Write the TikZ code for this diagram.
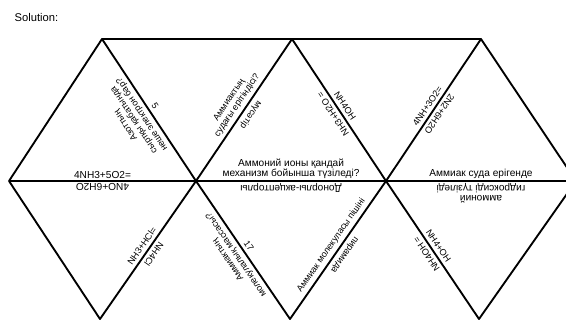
\documentclass[tikz,border=0pt]{standalone}
\usepackage{fontspec}
\setmainfont{Liberation Sans}
\usetikzlibrary{positioning}

\begin{document}
\begin{tikzpicture}[x=0.75pt, y=-0.75pt,
  edge/.style={line width=1.4pt, line join=round},
  clue/.style={midway, sloped, allow upside down, above, inner sep=2.8pt, align=center, font=\fontsize{6.8}{7.3}\selectfont},
  flat/.style={clue, inner sep=1.8pt, font=\fontsize{7.6}{7.6}\selectfont}]
\useasboundingbox (0,0) rectangle (566,320);
\clip (0,0) rectangle (566,320);

\node[anchor=west, font=\fontsize{8.4}{10}\selectfont] (title) at (10,18) {Solution:};

% corners of the triangles
\coordinate (t1) at (102,39);
\coordinate (t2) at (292,39);
\coordinate (t3) at (481,39);
\coordinate (m0) at (9,181);
\coordinate (m1) at (196,181);
\coordinate (m2) at (386,181);
\coordinate (m3) at (576,181);
\coordinate (b1) at (100,319);
\coordinate (b2) at (290,319);
\coordinate (b3) at (479,319);

% the three rows of lines
\draw[edge] (t1) -- (t3);
\draw[edge] (m0) -- (t1) -- (m1) -- (t2) -- (m2) -- (t3) -- (m3);
\draw[edge] (m0) -- (m3);
\draw[edge] (m0) -- (b1) -- (m1) -- (b2) -- (m2) -- (b3) -- (m3);

% top row - each text faces into its own triangle
\path (m1) -- node[clue] (q1) {Азоттың\\сыртқы қабатында\\неше электрон бар?} (t1);
\path (t1) -- node[clue] (a1) {5} (m1);
\path (m1) -- node[clue] (q2) {Аммиактың\\судағы ерітіндісі?} (t2);
\path (t2) -- node[clue] (a2) {мүсәтір} (m1);
\path (m2) -- node[clue] (q3) {NH3+H2O =} (t2);
\path (t2) -- node[clue] (a3) {NH4OH} (m2);
\path (m2) -- node[clue] (q4) {4NH+3O2=} (t3);
\path (t3) -- node[clue] (a4) {2N2+6H2O} (m2);

% middle line
\path (m0) -- node[flat] (q5) {4NH3+5O2=} (m1);
\path (m1) -- node[flat] (a5) {4NO+6H2O} (m0);
\path (m1) -- node[flat] (q6) {Аммоний ионы қандай\\механизм бойынша түзіледі?} (m2);
\path (m2) -- node[flat] (a6) {Донорлы-акцепторлы} (m1);
\path (m2) -- node[flat] (q7) {Аммиак суда ерігенде} (m3);
\path (m3) -- node[flat] (a7) {аммоний\\гидроксиді түзіледі} (m2);

% bottom row
\path (b1) -- node[clue] (q8) {NH3+HCl=} (m1);
\path (m1) -- node[clue] (a8) {NH4Cl} (b1);
\path (b2) -- node[clue] (q9) {Аммиактың\\молекулалық массасы?} (m1);
\path (m1) -- node[clue] (a9) {17} (b2);
\path (b2) -- node[clue] (q10) {Аммиак молекуласы пішіні} (m2);
\path (m2) -- node[clue] (a10) {пирамида} (b2);
\path (b3) -- node[clue] (q11) {NH4OH =} (m2);
\path (m2) -- node[clue] (a11) {NH4+OH} (b3);
\end{tikzpicture}
\end{document}
